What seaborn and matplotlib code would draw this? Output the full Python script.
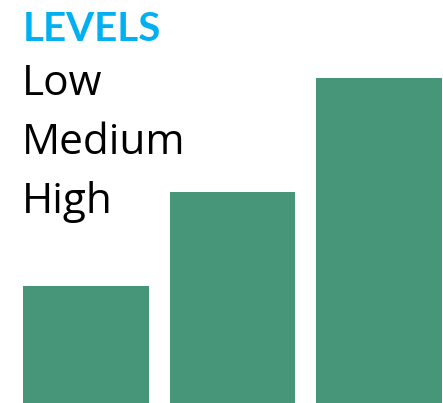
import matplotlib
matplotlib.use("Agg")
import matplotlib.pyplot as plt
import seaborn as sns
import pandas as pd

categories = ["Low", "Medium", "High"]
values = [36, 65, 100]
title = "LEVELS"

sns.set_theme(style="white")
plt.rcParams['font.family'] = ['Lato', 'DejaVu Sans']

W, H = 443, 403
fig = plt.figure(figsize=(W / 100, H / 100), dpi=100)
left_px, right_px = 23.3, 441.7
top_px = 78
ax = fig.add_axes([left_px / W, 0, (right_px - left_px) / W, (H - top_px) / H])

df = pd.DataFrame({"cat": categories, "val": values})
width = 0.855
sns.barplot(data=df, x="cat", y="val", color="#47967A", saturation=1,
            width=width, ax=ax, edgecolor="none")
ax.set_xlim(-width / 2, len(categories) - 1 + width / 2)
ax.set_ylim(0, max(values))
ax.axis("off")

def ftext(x, y, s, **kw):
    fig.text(x / W, 1 - y / H, s, va="baseline", ha="left", **kw)

ftext(23, 40.7, title, color="#00B0F0", fontweight="bold", fontsize=29)
for i, c in enumerate(categories):
    ftext(22, 95 + i * 59, c, color="black", fontsize=30.5,
          family=['Open Sans', 'DejaVu Sans'])

fig.savefig("out.png", dpi=100)
